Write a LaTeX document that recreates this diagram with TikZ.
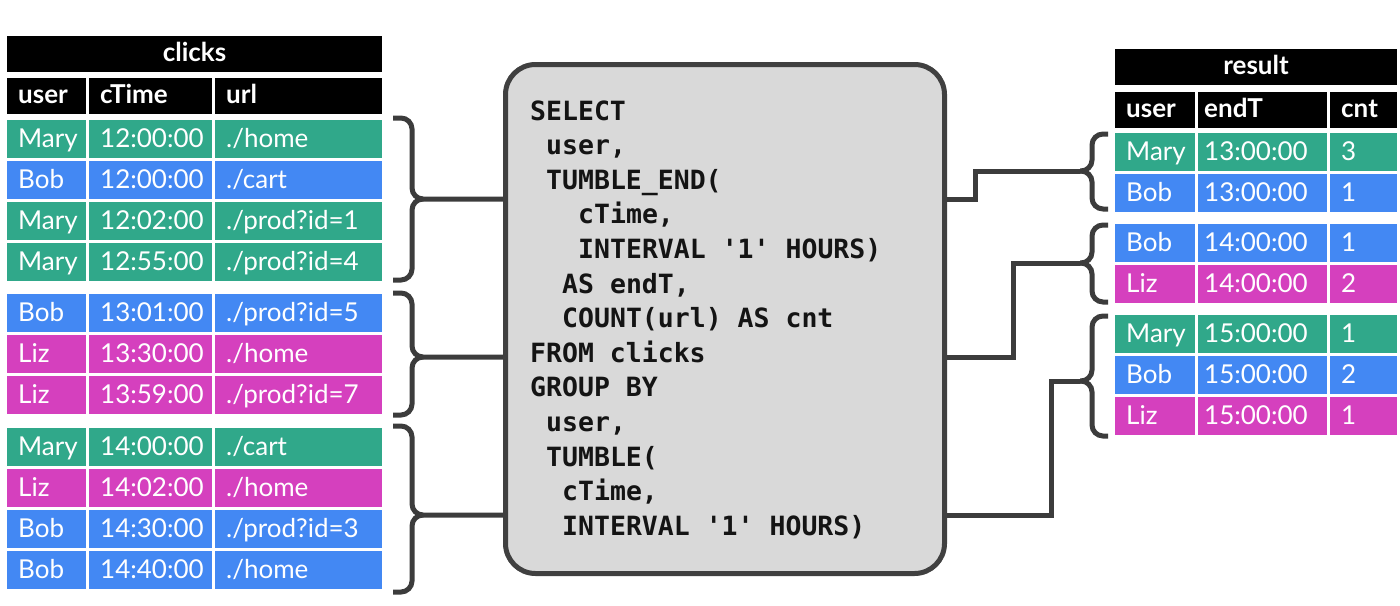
\documentclass[tikz,border=0pt]{standalone}
\usepackage{fontspec}
\setmainfont{Lato}
\setmonofont{DejaVu Sans Mono}
\begin{document}
\begin{tikzpicture}[x=1pt,y=-1pt,
  cellbox/.style={rectangle,anchor=north west,minimum height=38pt,inner sep=0pt,outer sep=0pt,draw=none},
  celltext/.style={anchor=base west,inner sep=0pt,text=white,font=\fontsize{26}{30}\selectfont},
  headtext/.style={anchor=base west,inner sep=0pt,text=white,font=\fontsize{26}{30}\selectfont\bfseries},
  codeline/.style={anchor=base west,inner sep=0pt,text=codetext,font=\fontsize{26.5}{30}\selectfont\ttfamily\bfseries},
  bracestyle/.style={draw=linegray,line width=5pt,rounded corners=11pt},
  connstyle/.style={draw=linegray,line width=5pt,line join=miter},
  codebox/.style={rectangle,draw=boxborder,fill=boxfill,line width=5pt,rounded corners=30pt,inner sep=0pt}]
\definecolor{cgreen}{RGB}{48,168,138}
\definecolor{cblue}{RGB}{67,136,243}
\definecolor{cmag}{RGB}{213,64,190}
\definecolor{linegray}{RGB}{60,60,60}
\definecolor{boxborder}{RGB}{64,64,64}
\definecolor{boxfill}{RGB}{217,217,217}
\definecolor{codetext}{RGB}{20,20,20}
\useasboundingbox (0,0) rectangle (1400,605);
\fill[white] (0,0) rectangle (1400,605);
% generic cell: name, x, y, width, colour, pad, text, textstyle
\newcommand\mycell[8]{%
  \node[cellbox,fill=#5,minimum width=#4pt] (#1) at (#2,#3) {};
  \node[#8] at ([xshift=#6pt,yshift=11pt]#1.south west) {#7};}
\newcommand\lrow[6]{%
  \mycell{#1u}{7}{#2}{79}{#3}{11}{#4}{celltext}
  \mycell{#1t}{89}{#2}{123}{#3}{11}{#5}{celltext}
  \mycell{#1r}{215}{#2}{167}{#3}{11}{#6}{celltext}}
\newcommand\rrow[6]{%
  \mycell{#1u}{1115}{#2}{80}{#3}{11}{#4}{celltext}
  \mycell{#1t}{1198}{#2}{129}{#3}{6}{#5}{celltext}
  \mycell{#1c}{1330}{#2}{67}{#3}{11}{#6}{celltext}}
% ---------- left table ----------
\node[cellbox,fill=black,minimum width=375pt,minimum height=36pt] (ltitle) at (7,36) {};
\node[anchor=base,inner sep=0pt,text=white,font=\fontsize{26}{30}\selectfont\bfseries] at ([yshift=11pt]ltitle.south) {clicks};
\node[cellbox,fill=black,minimum width=79pt,minimum height=36pt] (lhu) at (7,78) {};
\node[cellbox,fill=black,minimum width=123pt,minimum height=36pt] (lht) at (89,78) {};
\node[cellbox,fill=black,minimum width=167pt,minimum height=36pt] (lhr) at (215,78) {};
\node[headtext] at ([xshift=11pt,yshift=11pt]lhu.south west) {user};
\node[headtext] at ([xshift=11pt,yshift=11pt]lht.south west) {cTime};
\node[headtext] at ([xshift=11pt,yshift=11pt]lhr.south west) {url};
\lrow{la}{120}{cgreen}{Mary}{12:00:00}{./home}
\lrow{lb}{161}{cblue}{Bob}{12:00:00}{./cart}
\lrow{lc}{202}{cgreen}{Mary}{12:02:00}{./prod?id=1}
\lrow{ld}{243}{cgreen}{Mary}{12:55:00}{./prod?id=4}
\lrow{le}{294}{cblue}{Bob}{13:01:00}{./prod?id=5}
\lrow{lf}{335}{cmag}{Liz}{13:30:00}{./home}
\lrow{lg}{376}{cmag}{Liz}{13:59:00}{./prod?id=7}
\lrow{lh}{428}{cgreen}{Mary}{14:00:00}{./cart}
\lrow{li}{469}{cmag}{Liz}{14:02:00}{./home}
\lrow{lj}{510}{cblue}{Bob}{14:30:00}{./prod?id=3}
\lrow{lk}{551}{cblue}{Bob}{14:40:00}{./home}
% ---------- right table ----------
\node[cellbox,fill=black,minimum width=282pt,minimum height=36pt] (rtitle) at (1115,49) {};
\node[anchor=base,inner sep=0pt,text=white,font=\fontsize{26}{30}\selectfont\bfseries] at ([yshift=11pt]rtitle.south) {result};
\node[cellbox,fill=black,minimum width=80pt,minimum height=36pt] (rhu) at (1115,92) {};
\node[cellbox,fill=black,minimum width=129pt,minimum height=36pt] (rht) at (1198,92) {};
\node[cellbox,fill=black,minimum width=67pt,minimum height=36pt] (rhc) at (1330,92) {};
\node[headtext] at ([xshift=11pt,yshift=11pt]rhu.south west) {user};
\node[headtext] at ([xshift=6pt,yshift=11pt]rht.south west) {endT};
\node[headtext] at ([xshift=11pt,yshift=11pt]rhc.south west) {cnt};
\rrow{ra}{133}{cgreen}{Mary}{13:00:00}{3}
\rrow{rb}{174}{cblue}{Bob}{13:00:00}{1}
\rrow{rc}{224}{cblue}{Bob}{14:00:00}{1}
\rrow{rd}{265}{cmag}{Liz}{14:00:00}{2}
\rrow{re}{315}{cgreen}{Mary}{15:00:00}{1}
\rrow{rf}{356}{cblue}{Bob}{15:00:00}{2}
\rrow{rg}{397}{cmag}{Liz}{15:00:00}{1}
% ---------- code box ----------
\node[codebox,minimum width=439pt,minimum height=509pt] (code) at (725,319) {};
\node[codeline] (c1) at (530,120) {SELECT};
\node[codeline] (c2) at (546,154.6) {user,};
\node[codeline] (c3) at (546,189.2) {TUMBLE\_END(};
\node[codeline] (c4) at (578,223.8) {cTime,};
\node[codeline] (c5) at (578,258.4) {INTERVAL '1' HOURS)};
\node[codeline] (c6) at (562,293) {AS endT,};
\node[codeline] (c7) at (562,327.6) {COUNT(url) AS cnt};
\node[codeline] (c8) at (530,362.2) {FROM clicks};
\node[codeline] (c9) at (530,396.8) {GROUP BY};
\node[codeline] (c10) at (546,431.4) {user,};
\node[codeline] (c11) at (546,466) {TUMBLE(};
\node[codeline] (c12) at (562,500.6) {cTime,};
\node[codeline] (c13) at (562,535.2) {INTERVAL '1' HOURS)};
% ---------- left braces ----------
\coordinate (lb1) at (420,199);
\coordinate (lb2) at (420,357);
\coordinate (lb3) at (420,515);
\draw[bracestyle] (393,118) -- (412,118) -- (412,199) -- (code.west |- lb1);
\draw[bracestyle] (393,280) -- (412,280) -- (412,199) -- (lb1);
\draw[bracestyle] (393,293) -- (412,293) -- (412,357) -- (code.west |- lb2);
\draw[bracestyle] (393,415) -- (412,415) -- (412,357) -- (lb2);
\draw[bracestyle] (393,426) -- (412,426) -- (412,515) -- (code.west |- lb3);
\draw[bracestyle] (393,592) -- (412,592) -- (412,515) -- (lb3);
% ---------- right braces ----------
\coordinate (rb1) at (1080,171);
\coordinate (rb2) at (1080,263);
\coordinate (rb3) at (1080,381);
\draw[bracestyle] (rb1) -- (1092,171) -- (1092,134) -- (1108,134);
\draw[bracestyle] (rb1) -- (1092,171) -- (1092,209) -- (1108,209);
\draw[bracestyle] (rb2) -- (1092,263) -- (1092,225) -- (1108,225);
\draw[bracestyle] (rb2) -- (1092,263) -- (1092,302) -- (1108,302);
\draw[bracestyle] (rb3) -- (1092,381) -- (1092,316) -- (1108,316);
\draw[bracestyle] (rb3) -- (1092,381) -- (1092,436) -- (1108,436);
% ---------- connectors code -> result ----------
\draw[connstyle] (code.east |- lb1) -| (975,171) -- (rb1);
\draw[connstyle] (code.east |- lb2) -| (1013,263) -- (rb2);
\draw[connstyle] (code.east |- lb3) -| (1051,381) -- (rb3);
\end{tikzpicture}
\end{document}
